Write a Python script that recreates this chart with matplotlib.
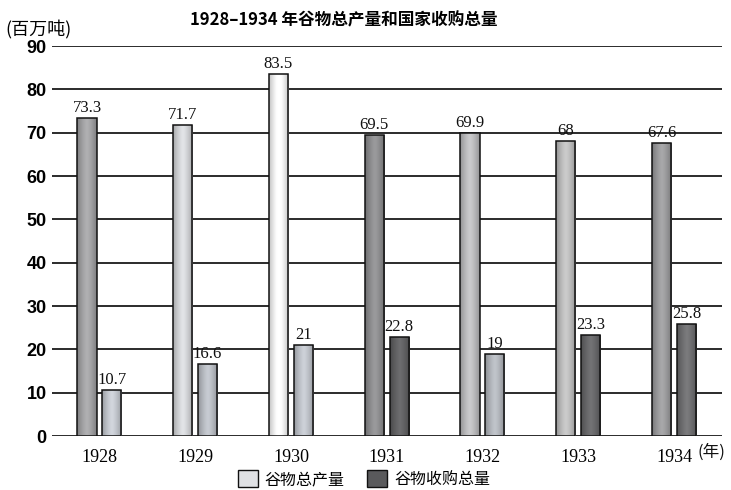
import numpy as np
import matplotlib.pyplot as plt
from matplotlib.colors import to_rgb
from matplotlib.patches import Patch

plt.rcParams['font.family'] = ['Noto Sans CJK SC', 'DejaVu Sans']

years = ['1928', '1929', '1930', '1931', '1932', '1933', '1934']
production = [73.3, 71.7, 83.5, 69.5, 69.9, 68, 67.6]
procurement = [10.7, 16.6, 21, 22.8, 19, 23.3, 25.8]
prod_labels = ['73.3', '71.7', '83.5', '69.5', '69.9', '68', '67.6']
proc_labels = ['10.7', '16.6', '21', '22.8', '19', '23.3', '25.8']

# scan shading differs bar by bar
prod_colors = ['#a2a2a4', '#d4d6d9', '#f8f8f8', '#8c8c8e', '#bcbcbe', '#bdbdbd', '#9a9a9c']
proc_colors = ['#c4c8cf', '#b9bdc4', '#bfc3ca', '#5e5e60', '#b2b6bc', '#646466', '#6c6c6e']


def shade(ax, bars, colors):
    # lighter middle, darker sides, like the printed bars
    t = np.linspace(-1, 1, 64)
    k = 1 - 0.22 * np.abs(t) ** 1.5
    for b, c in zip(bars, colors):
        rgb = np.array(to_rgb(c))
        lite = np.clip(rgb * k[:, None] + 0.06 * (1 - np.abs(t))[:, None], 0, 1)
        img = lite[None, :, :]
        x0, w, h = b.get_x(), b.get_width(), b.get_height()
        im = ax.imshow(img, extent=(x0, x0 + w, 0, h), aspect='auto',
                       interpolation='bilinear', zorder=3)
        im.set_clip_path(b)
        b.set_facecolor('none')
        b.set_zorder(4)


fig = plt.figure(figsize=(7.31, 4.9), dpi=100)
ax = fig.add_axes([0.0705, 0.1102, 0.917, 0.7959])

ind = np.arange(len(years))
width = 0.2
off = 0.13

# horizontal rules
for v in range(0, 100, 10):
    ax.axhline(v, color='#1a1a1a', lw=1.3, zorder=1)

b1 = ax.bar(ind - off, production, width, color=prod_colors, edgecolor='#111111', lw=1.1, zorder=3)
b2 = ax.bar(ind + off, procurement, width, color=proc_colors, edgecolor='#111111', lw=1.1, zorder=3)
shade(ax, b1, prod_colors)
shade(ax, b2, proc_colors)

for i, v in enumerate(production):
    ax.text(i - off, v + 1.4, prod_labels[i], ha='center', va='baseline',
            fontsize=12, family='Liberation Serif', color='#111111')
for i, v in enumerate(procurement):
    ax.text(i + off, v + 1.4, proc_labels[i], ha='center', va='baseline',
            fontsize=12, family='Liberation Serif', color='#111111')

ax.set_xlim(-0.5, 6.5)
ax.set_ylim(0, 90)
for s in ax.spines.values():
    s.set_visible(False)

ax.set_yticks(range(0, 100, 10))
ax.set_yticklabels([str(v) for v in range(0, 100, 10)], family='Liberation Sans',
                   fontweight='bold', fontsize=13)
ax.tick_params(axis='y', length=0, pad=3.5)
ax.set_xticks(ind)
ax.set_xticklabels(years, family='Liberation Serif', fontsize=13)
ax.tick_params(axis='x', length=0, pad=9)
fig.text(0.973, 0.078, '(年)', ha='center', va='center', fontsize=12, color='#111111')

fig.text(0.47, 0.959, '1928–1934 年谷物总产量和国家收购总量', ha='center', va='center',
         fontsize=12, fontweight='bold')
fig.text(0.008, 0.939, '(百万吨)', ha='left', va='center', fontsize=13)

handles = [Patch(facecolor='#e0e1e4', edgecolor='#111111', label='谷物总产量'),
           Patch(facecolor='#5a5a5c', edgecolor='#111111', label='谷物收购总量')]
fig.legend(handles=handles, loc='center', bbox_to_anchor=(0.498, 0.022), ncol=2,
           frameon=False, fontsize=11.5, handlelength=1.25, handleheight=1.25,
           handletextpad=0.45, columnspacing=1.4)

fig.savefig('out.png', dpi=100)
